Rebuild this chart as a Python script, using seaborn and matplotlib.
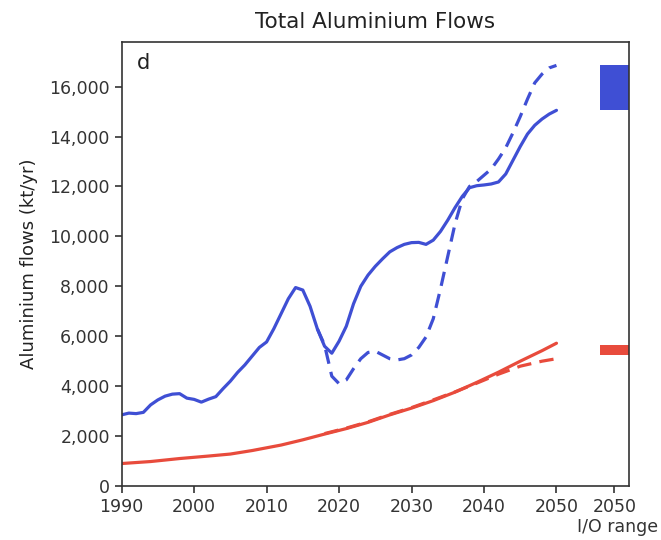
import matplotlib
matplotlib.use("Agg")
import matplotlib.pyplot as plt
import seaborn as sns
import pandas as pd
from matplotlib.ticker import FuncFormatter

# ---- data ----
blue_solid_years = list(range(1990, 2051))
blue_solid_vals = [2850, 2920, 2900, 2950, 3250, 3450, 3600, 3680, 3700, 3520,
                   3470, 3360, 3480, 3580, 3900, 4200, 4550, 4850, 5200, 5550,
                   5770, 6300, 6900, 7500, 7950, 7850, 7200, 6300, 5600, 5320,
                   5800, 6400, 7300, 8000, 8450, 8800, 9100, 9380, 9550, 9680,
                   9750, 9760, 9680, 9850, 10200, 10650, 11150, 11600, 11950, 12030,
                   12060, 12100, 12180, 12500, 13050, 13600, 14100, 14450, 14700, 14900,
                   15050]

blue_dash_years = list(range(2017, 2051))
blue_dash_vals = [6300, 5650, 4400, 4100, 4250, 4700, 5100, 5350, 5400, 5250,
                  5100, 5050, 5100, 5250, 5550, 5970, 6700, 7900, 9200, 10500,
                  11500, 12000, 12200, 12450, 12700, 13100, 13550, 14150, 14800, 15500,
                  16150, 16500, 16750, 16850]

red_solid_years = [1990, 1994, 1998, 2002, 2005, 2008, 2012, 2015, 2018, 2021,
                   2024, 2027, 2030, 2033, 2036, 2039, 2042, 2045, 2048, 2050]
red_solid_vals = [900, 980, 1100, 1200, 1280, 1420, 1640, 1850, 2080, 2300,
                  2550, 2850, 3120, 3420, 3760, 4150, 4560, 5000, 5420, 5720]

red_dash_years = [2018, 2021, 2024, 2027, 2030, 2033, 2036, 2039, 2042, 2045, 2048, 2050]
red_dash_vals = [2100, 2320, 2570, 2870, 3140, 3450, 3770, 4120, 4480, 4800, 5000, 5100]

# I/O range bars (drawn at the extra "2050" slot on the right)
io_x = 2058
io_width = 4
blue_io_low, blue_io_high = 15050, 16850
red_io_low, red_io_high = 5250, 5650

x_ticks = [1990, 2000, 2010, 2020, 2030, 2040, 2050, 2058]
x_tick_labels = ["1990", "2000", "2010", "2020", "2030", "2040", "2050", "2050"]
y_ticks = list(range(0, 16001, 2000))

BLUE = "#3F4FD4"
RED = "#E84B3C"

sns.set_style("ticks")
plt.rcParams["font.family"] = ["DejaVu Sans"]

fig = plt.figure(figsize=(6.61, 5.40), dpi=100)
ax = fig.add_axes([0.184, 0.10, 0.7675, 0.8228])

df_bs = pd.DataFrame({"year": blue_solid_years, "flow": blue_solid_vals})
df_bd = pd.DataFrame({"year": blue_dash_years, "flow": blue_dash_vals})
df_rs = pd.DataFrame({"year": red_solid_years, "flow": red_solid_vals})
df_rd = pd.DataFrame({"year": red_dash_years, "flow": red_dash_vals})

lw = 2.3
sns.lineplot(data=df_bs, x="year", y="flow", ax=ax, color=BLUE, lw=lw)
sns.lineplot(data=df_bd, x="year", y="flow", ax=ax, color=BLUE, lw=lw,
             linestyle=(0, (4.5, 2.6)))
sns.lineplot(data=df_rs, x="year", y="flow", ax=ax, color=RED, lw=lw)
sns.lineplot(data=df_rd, x="year", y="flow", ax=ax, color=RED, lw=lw,
             linestyle=(0, (4.5, 2.6)))

ax.bar([io_x], [blue_io_high - blue_io_low], bottom=[blue_io_low], width=io_width,
       color=BLUE, linewidth=0)
ax.bar([io_x], [red_io_high - red_io_low], bottom=[red_io_low], width=io_width,
       color=RED, linewidth=0)

ax.set_xlim(1990, 2060)
ax.set_ylim(0, 17800)
ax.set_xticks(x_ticks)
ax.set_xticklabels(x_tick_labels)
ax.set_yticks(y_ticks)
ax.yaxis.set_major_formatter(FuncFormatter(lambda v, p: f"{int(v):,}"))
ax.tick_params(axis="both", labelsize=12.5, length=5, width=1.1, colors="#222222",
               labelcolor="#333333")
for s in ax.spines.values():
    s.set_visible(True)
    s.set_color("#333333")
    s.set_linewidth(1.2)

ax.set_xlabel("")
ax.set_ylabel("Aluminium flows (kt/yr)", fontsize=13, color="#222222", labelpad=8)
ax.set_title("Total Aluminium Flows", fontsize=15.5, color="#222222", pad=10)
ax.text(0.03, 0.975, "d", transform=ax.transAxes, fontsize=15, va="top", ha="left",
        color="#222222")
fig.text(0.995, 1 - 527 / 540, "I/O range", ha="right", va="center", fontsize=12.5,
         color="#333333")

fig.savefig("out.png", dpi=100)
